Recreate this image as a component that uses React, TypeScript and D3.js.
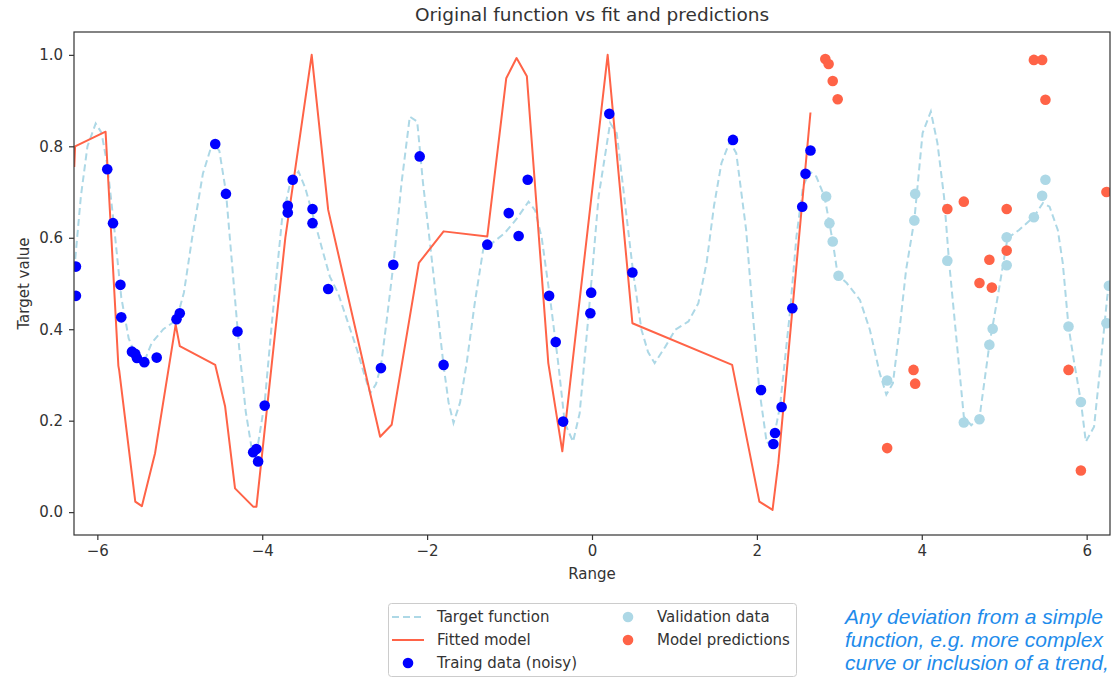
import * as d3 from 'd3';
import { useEffect, useRef } from 'react';

const targetX = [-6.28, -6.2, -6.12, -6.02, -5.95, -5.88, -5.8, -5.71, -5.62, -5.55, -5.43, -5.34, -5.2, -5.04, -4.95, -4.85, -4.72, -4.6, -4.52, -4.44, -4.36, -4.28, -4.2, -4.12, -4.05, -3.97, -3.88, -3.76, -3.66, -3.56, -3.48, -3.38, -3.28, -3.18, -3.08, -2.97, -2.85, -2.76, -2.69, -2.62, -2.56, -2.49, -2.41, -2.31, -2.21, -2.12, -2.05, -1.96, -1.88, -1.8, -1.74, -1.68, -1.6, -1.52, -1.42, -1.32, -1.2, -1.06, -0.92, -0.77, -0.69, -0.61, -0.51, -0.41, -0.33, -0.23, -0.15, -0.04, 0.08, 0.22, 0.3, 0.4, 0.5, 0.6, 0.68, 0.76, 0.89, 1.01, 1.17, 1.29, 1.39, 1.48, 1.57, 1.67, 1.75, 1.87, 1.95, 2.03, 2.12, 2.2, 2.28, 2.4, 2.48, 2.56, 2.64, 2.72, 2.82, 2.92, 2.98, 3.09, 3.25, 3.37, 3.49, 3.57, 3.65, 3.73, 3.81, 3.91, 4.01, 4.11, 4.19, 4.27, 4.33, 4.41, 4.51, 4.6, 4.7, 4.82, 4.92, 5.04, 5.18, 5.36, 5.47, 5.55, 5.65, 5.71, 5.78, 5.85, 5.93, 5.99, 6.09, 6.17, 6.25, 6.28];
const targetY = [0.53, 0.69, 0.8, 0.85, 0.83, 0.76, 0.63, 0.47, 0.38, 0.35, 0.33, 0.37, 0.4, 0.42, 0.48, 0.6, 0.74, 0.81, 0.79, 0.7, 0.53, 0.36, 0.22, 0.13, 0.15, 0.24, 0.42, 0.64, 0.72, 0.745, 0.71, 0.646, 0.58, 0.515, 0.479, 0.42, 0.355, 0.3, 0.26, 0.28, 0.32, 0.42, 0.54, 0.72, 0.865, 0.854, 0.72, 0.58, 0.45, 0.32, 0.24, 0.195, 0.24, 0.326, 0.46, 0.574, 0.59, 0.61, 0.64, 0.679, 0.66, 0.6, 0.47, 0.326, 0.195, 0.154, 0.216, 0.435, 0.69, 0.851, 0.829, 0.676, 0.523, 0.399, 0.35, 0.326, 0.362, 0.399, 0.417, 0.457, 0.545, 0.67, 0.763, 0.81, 0.785, 0.617, 0.435, 0.267, 0.151, 0.158, 0.231, 0.435, 0.603, 0.712, 0.745, 0.734, 0.69, 0.592, 0.519, 0.501, 0.464, 0.399, 0.304, 0.257, 0.282, 0.399, 0.53, 0.639, 0.829, 0.876, 0.807, 0.69, 0.55, 0.399, 0.209, 0.19, 0.206, 0.366, 0.47, 0.599, 0.617, 0.646, 0.676, 0.668, 0.617, 0.545, 0.406, 0.326, 0.242, 0.154, 0.187, 0.326, 0.471, 0.51];

// fitted model (solid)
const fitX = [-6.28, -6.27, -5.9, -5.745, -5.735, -5.54, -5.46, -5.3, -5.05, -5.0, -4.57, -4.45, -4.33, -4.11, -4.07, -3.72, -3.4, -3.2, -2.57, -2.43, -2.1, -1.8, -1.27, -1.04, -0.915, -0.79, -0.53, -0.36, 0.19, 0.49, 1.7, 2.03, 2.19, 2.26, 2.65];
const fitY = [0.755, 0.8, 0.832, 0.32, 0.31, 0.023, 0.013, 0.129, 0.41, 0.363, 0.322, 0.231, 0.052, 0.012, 0.012, 0.6, 1.0, 0.661, 0.165, 0.191, 0.545, 0.614, 0.603, 0.949, 0.993, 0.953, 0.326, 0.133, 1.0, 0.413, 0.322, 0.023, 0.005, 0.107, 0.874];

// training data (noisy)
const trainX = [-6.26, -6.26, -5.88, -5.81, -5.72, -5.71, -5.58, -5.54, -5.52, -5.43, -5.28, -5.04, -5.0, -4.57, -4.44, -4.3, -4.11, -4.07, -4.05, -3.97, -3.63, -3.69, -3.69, -3.39, -3.39, -3.2, -2.56, -2.41, -2.09, -1.8, -1.27, -1.01, -0.89, -0.78, -0.52, -0.44, -0.35, -0.01, -0.02, 0.21, 0.49, 1.71, 2.05, 2.3, 2.22, 2.2, 2.43, 2.55, 2.59, 2.65];
const trainY = [0.537, 0.473, 0.75, 0.632, 0.497, 0.426, 0.351, 0.346, 0.337, 0.328, 0.338, 0.422, 0.435, 0.805, 0.696, 0.395, 0.131, 0.138, 0.111, 0.233, 0.727, 0.67, 0.655, 0.663, 0.632, 0.488, 0.315, 0.541, 0.778, 0.322, 0.585, 0.654, 0.604, 0.727, 0.473, 0.372, 0.198, 0.48, 0.435, 0.871, 0.524, 0.814, 0.267, 0.23, 0.173, 0.149, 0.446, 0.668, 0.74, 0.791];

// validation data
const validX = [2.84, 2.88, 2.92, 2.99, 3.58, 3.92, 3.91, 4.31, 4.51, 4.7, 4.82, 4.86, 5.03, 5.03, 5.36, 5.46, 5.5, 5.78, 5.93, 6.24, 6.27];
const validY = [0.69, 0.632, 0.592, 0.517, 0.288, 0.696, 0.638, 0.55, 0.196, 0.203, 0.366, 0.401, 0.601, 0.54, 0.645, 0.692, 0.727, 0.406, 0.241, 0.413, 0.495];

// model predictions
const predX = [2.83, 2.87, 2.92, 2.98, 3.58, 3.9, 3.92, 4.31, 4.51, 4.7, 4.82, 4.85, 5.03, 5.03, 5.36, 5.46, 5.5, 5.78, 5.93, 6.24];
const predY = [0.991, 0.98, 0.943, 0.903, 0.14, 0.311, 0.281, 0.663, 0.679, 0.501, 0.552, 0.491, 0.663, 0.572, 0.989, 0.989, 0.902, 0.311, 0.091, 0.7];

const xTicks = [-6, -4, -2, 0, 2, 4, 6];
const yTicks = [0, 0.2, 0.4, 0.6, 0.8, 1.0];

const legendItems = [
  { label: 'Target function', kind: 'dash', color: '#add8e6' },
  { label: 'Fitted model', kind: 'line', color: '#ff6347' },
  { label: 'Traing data (noisy)', kind: 'dot', color: '#0000ff' },
  { label: 'Validation data', kind: 'dot', color: '#add8e6' },
  { label: 'Model predictions', kind: 'dot', color: '#ff6347' },
];

const noteLines = ['Any deviation from a simple', 'function, e.g. more complex', 'curve or inclusion of a trend,'];

export default function App() {
  const ref = useRef<SVGSVGElement | null>(null);

  useEffect(() => {
    const svg = d3.select(ref.current);
    svg.selectAll('*').remove();

    const W = 1112, H = 680;
    const m = { left: 74, right: 1110, top: 32, bottom: 535 };
    const font = '"DejaVu Sans", sans-serif';
    const ink = '#333';

    const x = d3.scaleLinear().domain([-2 * Math.PI, 2 * Math.PI]).range([m.left, m.right]);
    const y = d3.scaleLinear().domain([-0.05, 1.05]).range([m.bottom, m.top]);

    svg.attr('width', W).attr('height', H);
    svg.append('rect').attr('width', W).attr('height', H).attr('fill', '#fff');

    svg.append('defs').append('clipPath').attr('id', 'plotclip')
      .append('rect')
      .attr('x', m.left).attr('y', m.top)
      .attr('width', m.right - m.left).attr('height', m.bottom - m.top);

    const plot = svg.append('g').attr('clip-path', 'url(#plotclip)');
    const path = d3.line();

    const target = targetX.map((v, i) => [x(v), y(targetY[i])] as [number, number]);
    const fit = fitX.map((v, i) => [x(v), y(fitY[i])] as [number, number]);

    plot.append('path').attr('d', path(target)).attr('fill', 'none')
      .attr('stroke', '#add8e6').attr('stroke-width', 2).attr('stroke-dasharray', '7,4');
    plot.append('path').attr('d', path(fit)).attr('fill', 'none')
      .attr('stroke', '#ff6347').attr('stroke-width', 2).attr('stroke-linejoin', 'round');

    const dots = (xs: number[], ys: number[], color: string) => {
      plot.append('g').selectAll('circle').data(xs).join('circle')
        .attr('cx', (d) => x(d))
        .attr('cy', (d, i) => y(ys[i]))
        .attr('r', 5.3)
        .attr('fill', color);
    };
    dots(trainX, trainY, '#0000ff');
    dots(validX, validY, '#add8e6');
    dots(predX, predY, '#ff6347');

    // frame
    svg.append('rect')
      .attr('x', m.left).attr('y', m.top)
      .attr('width', m.right - m.left).attr('height', m.bottom - m.top)
      .attr('fill', 'none').attr('stroke', ink).attr('stroke-width', 1.2);

    const xa = svg.append('g').attr('transform', `translate(0,${m.bottom})`)
      .call(d3.axisBottom(x).tickValues(xTicks).tickFormat(d3.format('d')).tickSize(5).tickPadding(5).tickSizeOuter(0));
    const ya = svg.append('g').attr('transform', `translate(${m.left},0)`)
      .call(d3.axisLeft(y).tickValues(yTicks).tickFormat(d3.format('.1f')).tickSize(5).tickPadding(6).tickSizeOuter(0));
    [xa, ya].forEach((g) => {
      g.select('.domain').remove();
      g.selectAll('line').attr('stroke', ink).attr('stroke-width', 1.2);
      g.selectAll('text').attr('fill', ink).style('font-family', font).style('font-size', '15px');
    });

    svg.append('text').attr('x', (m.left + m.right) / 2).attr('y', 21)
      .attr('text-anchor', 'middle').attr('fill', ink)
      .style('font-family', font).style('font-size', '18.5px')
      .text('Original function vs fit and predictions');

    svg.append('text').attr('x', (m.left + m.right) / 2).attr('y', 579)
      .attr('text-anchor', 'middle').attr('fill', ink)
      .style('font-family', font).style('font-size', '15px')
      .text('Range');

    svg.append('text').attr('transform', `translate(29,${(m.top + m.bottom) / 2}) rotate(-90)`)
      .attr('text-anchor', 'middle').attr('fill', ink)
      .style('font-family', font).style('font-size', '15px')
      .text('Target value');

    // legend
    const lg = svg.append('g');
    lg.append('rect').attr('x', 388.5).attr('y', 603.5).attr('width', 408).attr('height', 73)
      .attr('rx', 3).attr('fill', '#fff').attr('stroke', '#ccc');
    legendItems.forEach((it, i) => {
      const col = i < 3 ? 0 : 1;
      const row = i < 3 ? i : i - 3;
      const hx = col === 0 ? 392 : 612;
      const cy = 617 + row * 23;
      const g = lg.append('g');
      if (it.kind === 'dot') {
        g.append('circle').attr('cx', hx + 16).attr('cy', cy).attr('r', 5.3).attr('fill', it.color);
      } else {
        g.append('line').attr('x1', hx).attr('x2', hx + 32).attr('y1', cy).attr('y2', cy)
          .attr('stroke', it.color).attr('stroke-width', 2)
          .attr('stroke-dasharray', it.kind === 'dash' ? '7,4' : null);
      }
      g.append('text').attr('x', hx + 45).attr('y', cy).attr('dy', '0.35em')
        .attr('fill', ink).style('font-family', font).style('font-size', '15px')
        .text(it.label);
    });

    // side note
    noteLines.forEach((t, i) => {
      svg.append('text').attr('x', 845).attr('y', 617 + i * 23).attr('dy', '0.35em')
        .attr('fill', '#1f8ceb').style('font-family', '"Liberation Sans", Arial, sans-serif')
        .style('font-size', '21px').style('font-style', 'italic')
        .text(t);
    });
  }, []);

  return <svg ref={ref} style={{ position: 'absolute', left: 0, top: 0, display: 'block' }} />;
}
